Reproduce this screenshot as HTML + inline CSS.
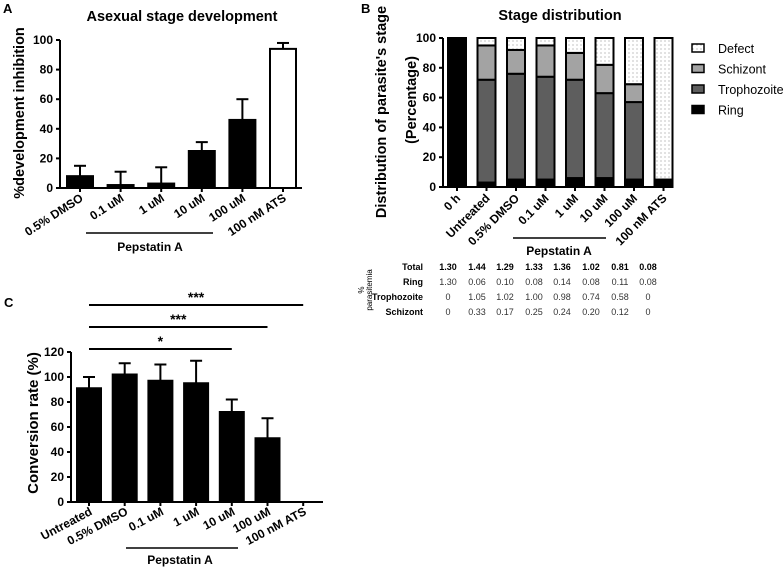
<!DOCTYPE html>
<html><head><meta charset="utf-8"><style>
html,body{margin:0;padding:0;background:#fff}
svg{display:block;font-family:"Liberation Sans",Arial,sans-serif}
</style></head><body>
<svg id="fig" width="784" height="567" viewBox="0 0 784 567" xmlns="http://www.w3.org/2000/svg">
<defs><pattern id="dots" width="4" height="4" patternUnits="userSpaceOnUse"><rect width="4" height="4" fill="#fff"/><circle cx="1" cy="1" r="0.6" fill="#999"/></pattern></defs>
<g id="pA"></g>
<g id="pB"></g>
<g id="pC"></g>
</svg>
<script>
const aCats=["0.5% DMSO","0.1 uM","1 uM","10 uM","100 uM","100 nM ATS"];
const aVals=[8,2,3,25,46,94];
const aErr=[7,9,11,6,14,4];
const aTicks=[0,20,40,60,80,100];

const bCats=["0 h","Untreated","0.5% DMSO","0.1 uM","1 uM","10 uM","100 uM","100 nM ATS"];
const bRing=[100,3,5,5,6,6,5,5];
const bTroph=[0,69,71,69,66,57,52,0];
const bSchiz=[0,23,16,21,18,19,12,0];
const bDefect=[0,5,8,5,10,18,31,95];
const bTicks=[0,20,40,60,80,100];
const tRows=["Total","Ring","Trophozoite","Schizont"];
const tTotal=["1.30","1.44","1.29","1.33","1.36","1.02","0.81","0.08"];
const tRing=["1.30","0.06","0.10","0.08","0.14","0.08","0.11","0.08"];
const tTroph=["0","1.05","1.02","1.00","0.98","0.74","0.58","0"];
const tSchiz=["0","0.33","0.17","0.25","0.24","0.20","0.12","0"];

const cCats=["Untreated","0.5% DMSO","0.1 uM","1 uM","10 uM","100 uM","100 nM ATS"];
const cVals=[91,102,97,95,72,51,0];
const cErr=[9,9,13,18,10,16,0];
const cTicks=[0,20,40,60,80,100,120];
const cSig=[{to:4,label:"*"},{to:5,label:"***"},{to:6,label:"***"}];

const NS="http://www.w3.org/2000/svg";
const TF=12, HF=14.5;
function mk(p,tag,at,txt){const e=document.createElementNS(NS,tag);for(const k in at)e.setAttribute(k,at[k]);if(txt!==undefined)e.textContent=txt;p.appendChild(e);return e;}

// Panel A
(function(){
const g=document.getElementById('pA');
const y=v=>188-v*1.48, x0=60, pitch=40.6, first=80, bw=26;
const xc=i=>first+i*pitch;
let t=mk(g,'text',{x:3,y:13,'font-size':13,'font-weight':'bold'},'A');

t=mk(g,'text',{x:182,y:21,'font-size':HF,'font-weight':'bold','text-anchor':'middle'},'Asexual stage development');

t=mk(g,'text',{x:0,y:0,'font-size':HF,'font-weight':'bold','text-anchor':'middle',transform:'translate(24,113) rotate(-90)'},'%development inhibition');

mk(g,'line',{x1:x0,y1:y(100),x2:x0,y2:y(0)+1,stroke:'#000','stroke-width':2});
mk(g,'line',{x1:x0,y1:y(0),x2:302,y2:y(0),stroke:'#000','stroke-width':2});
aTicks.forEach(v=>{mk(g,'line',{x1:x0-4,y1:y(v),x2:x0,y2:y(v),stroke:'#000','stroke-width':2});
 const l=mk(g,'text',{x:x0-7,y:y(v)+4,'font-size':TF,'font-weight':'bold','text-anchor':'end'},v);
 });
aVals.forEach((v,i)=>{const cx=xc(i);
 mk(g,'line',{x1:cx,y1:y(v),x2:cx,y2:y(v+aErr[i]),stroke:'#000','stroke-width':2});
 mk(g,'line',{x1:cx-6,y1:y(v+aErr[i]),x2:cx+6,y2:y(v+aErr[i]),stroke:'#000','stroke-width':2});
 const b=mk(g,'rect',{x:cx-bw/2,y:y(v),width:bw,height:y(0)-y(v),fill:i==5?'#fff':'#000',stroke:'#000','stroke-width':2});
 
 mk(g,'line',{x1:cx,y1:y(0),x2:cx,y2:y(0)+4,stroke:'#000','stroke-width':2});
 const l=mk(g,'text',{x:0,y:0,'font-size':TF,'font-weight':'bold','text-anchor':'end',transform:`translate(${cx+4},${y(0)+12}) rotate(-33)`},aCats[i]);
 });
mk(g,'line',{x1:86,y1:233,x2:213,y2:233,stroke:'#000','stroke-width':1.5});
t=mk(g,'text',{x:150,y:251,'font-size':TF,'font-weight':'bold','text-anchor':'middle'},'Pepstatin A');

})();

// Panel B
(function(){
const g=document.getElementById('pB');
const y=v=>187-v*1.49, x0=443, bw=18;
const xc=i=>457+i*29.5;
let t=mk(g,'text',{x:361,y:13,'font-size':13,'font-weight':'bold'},'B');

t=mk(g,'text',{x:560,y:20,'font-size':HF,'font-weight':'bold','text-anchor':'middle'},'Stage distribution');

t=mk(g,'text',{x:0,y:0,'font-size':HF,'font-weight':'bold','text-anchor':'middle',transform:'translate(386,112) rotate(-90)'},"Distribution of parasite's stage");

t=mk(g,'text',{x:0,y:0,'font-size':HF,'font-weight':'bold','text-anchor':'middle',transform:'translate(416,100) rotate(-90)'},"(Percentage)");

mk(g,'line',{x1:x0,y1:y(100),x2:x0,y2:y(0)+1,stroke:'#000','stroke-width':2});
mk(g,'line',{x1:x0,y1:y(0),x2:673,y2:y(0),stroke:'#000','stroke-width':2});
bTicks.forEach(v=>{mk(g,'line',{x1:x0-4,y1:y(v),x2:x0,y2:y(v),stroke:'#000','stroke-width':2});
 const l=mk(g,'text',{x:x0-7,y:y(v)+4,'font-size':TF,'font-weight':'bold','text-anchor':'end'},v);
 });
const series=[[bRing,'#000','ring'],[bTroph,'#5e5e5e','trophozoite'],[bSchiz,'#a3a3a3','schizont'],[bDefect,'url(#dots)','defect']];
bCats.forEach((c,i)=>{const cx=xc(i);let base=0;
 series.forEach(([arr,fill,nm])=>{const v=arr[i];if(v>0){
  const r=mk(g,'rect',{x:cx-bw/2,y:y(base+v),width:bw,height:y(base)-y(base+v),fill:fill,stroke:'#000','stroke-width':2});
  }
  base+=v;});
 mk(g,'line',{x1:cx,y1:y(0),x2:cx,y2:y(0)+4,stroke:'#000','stroke-width':2});
 const l=mk(g,'text',{x:0,y:0,'font-size':TF,'font-weight':'bold','text-anchor':'end',transform:`translate(${cx+4},${y(0)+12}) rotate(-45)`},c);
 });
mk(g,'line',{x1:513,y1:238,x2:606,y2:238,stroke:'#000','stroke-width':1.5});
t=mk(g,'text',{x:559,y:255,'font-size':TF,'font-weight':'bold','text-anchor':'middle'},'Pepstatin A');

const leg=[['Defect','url(#dots)'],['Schizont','#a3a3a3'],['Trophozoite','#5e5e5e'],['Ring','#000']];
leg.forEach(([n,f],k)=>{const ly=48+k*20.5;
 const r=mk(g,'rect',{x:692,y:ly-4,width:12,height:8,fill:f,stroke:'#000','stroke-width':1.5});
 
 const l=mk(g,'text',{x:718,y:ly+5,'font-size':12.5},n);
 });
// table
const rows=[tTotal,tRing,tTroph,tSchiz];
const colX=[448,477,505,534,562,591,620,648];
rows.forEach((arr,r)=>{const ry=270+r*15;
 const l=mk(g,'text',{x:423,y:ry,'font-size':9,'font-weight':'bold','text-anchor':'end'},tRows[r]);
 
 arr.forEach((v,i)=>{const c=mk(g,'text',{x:colX[i],y:ry,'font-size':9,'font-weight':r==0?'bold':'normal','text-anchor':'middle',fill:r==0?'#000':'#333'},v);
  });});
t=mk(g,'text',{x:0,y:0,'font-size':8,'text-anchor':'middle',transform:'translate(364,290) rotate(-90)'},'%');

t=mk(g,'text',{x:0,y:0,'font-size':8,'text-anchor':'middle',transform:'translate(372,290) rotate(-90)'},'parasitemia');

})();

// Panel C
(function(){
const g=document.getElementById('pC');
const y=v=>502-v*1.25, x0=71, bw=24;
const xc=i=>89+i*35.7;
let t=mk(g,'text',{x:4,y:307,'font-size':13,'font-weight':'bold'},'C');

t=mk(g,'text',{x:0,y:0,'font-size':HF+0.5,'font-weight':'bold','text-anchor':'middle',transform:'translate(38,423) rotate(-90)'},'Conversion rate (%)');

mk(g,'line',{x1:x0,y1:y(120),x2:x0,y2:y(0)+1,stroke:'#000','stroke-width':2});
mk(g,'line',{x1:x0,y1:y(0),x2:323,y2:y(0),stroke:'#000','stroke-width':2});
cTicks.forEach(v=>{mk(g,'line',{x1:x0-4,y1:y(v),x2:x0,y2:y(v),stroke:'#000','stroke-width':2});
 const l=mk(g,'text',{x:x0-7,y:y(v)+4,'font-size':TF,'font-weight':'bold','text-anchor':'end'},v);
 });
cVals.forEach((v,i)=>{const cx=xc(i);
 if(v>0){mk(g,'line',{x1:cx,y1:y(v),x2:cx,y2:y(v+cErr[i]),stroke:'#000','stroke-width':2});
 mk(g,'line',{x1:cx-6,y1:y(v+cErr[i]),x2:cx+6,y2:y(v+cErr[i]),stroke:'#000','stroke-width':2});
 const b=mk(g,'rect',{x:cx-bw/2,y:y(v),width:bw,height:y(0)-y(v),fill:'#000',stroke:'#000','stroke-width':2});
 }
 mk(g,'line',{x1:cx,y1:y(0),x2:cx,y2:y(0)+4,stroke:'#000','stroke-width':2});
 const l=mk(g,'text',{x:0,y:0,'font-size':TF,'font-weight':'bold','text-anchor':'end',transform:`translate(${cx+4},${y(0)+12}) rotate(-28)`},cCats[i]);
 });
cSig.forEach((s,k)=>{const ly=349-k*22;
 const ln=mk(g,'line',{x1:xc(0),y1:ly,x2:xc(s.to),y2:ly,stroke:'#000','stroke-width':2});
 
 const l=mk(g,'text',{x:(xc(0)+xc(s.to))/2,y:ly-3,'font-size':14,'font-weight':'bold','text-anchor':'middle'},s.label);
 });
mk(g,'line',{x1:126,y1:548,x2:238,y2:548,stroke:'#000','stroke-width':1.5});
t=mk(g,'text',{x:180,y:564,'font-size':TF,'font-weight':'bold','text-anchor':'middle'},'Pepstatin A');

})();
</script>
</body></html>
